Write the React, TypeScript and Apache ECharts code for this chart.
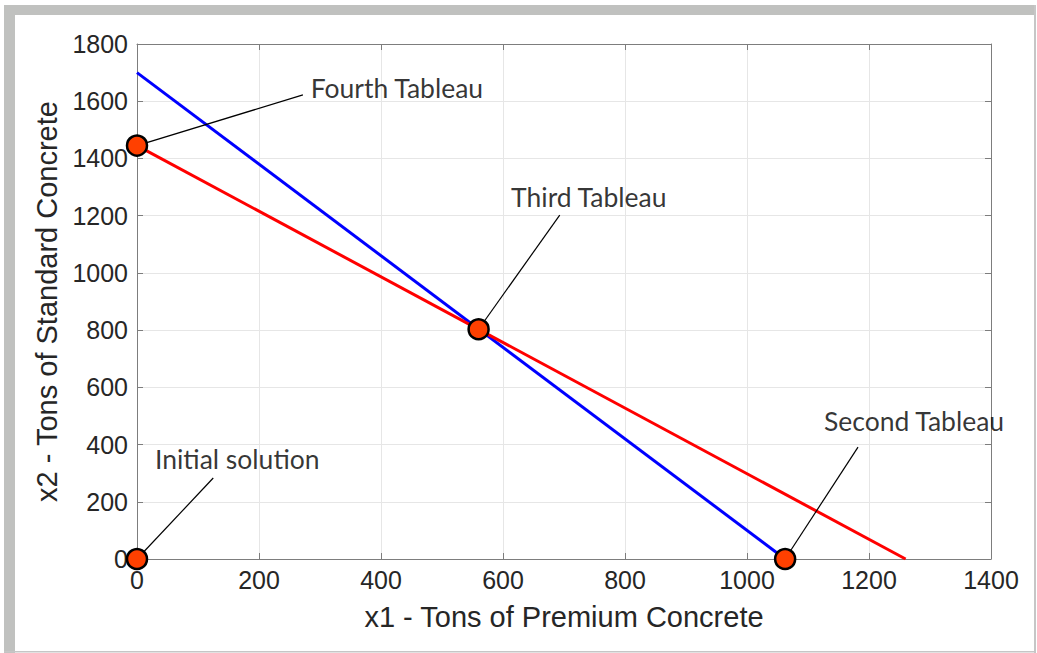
import React, { useEffect, useRef } from "react";
import * as echarts from "echarts";

const blueX = [0, 1062.5];
const blueY = [1700, 0];
const redX = [0, 1260];
const redY = [1445, 0];

const pointNames = ["Initial solution", "Second Tableau", "Third Tableau", "Fourth Tableau"];
const pointX = [0, 1062.5, 560, 0];
const pointY = [0, 0, 803, 1445];
const calloutX = [125, 1182, 693, 272];
const calloutY = [283, 391, 1202, 1622];
const labelOffsets: number[][] = [[24, -19], [56, -26], [29, -18], [94, -7]];

const xTicks = { min: 0, max: 1400, interval: 200 };
const yTicks = { min: 0, max: 1800, interval: 200 };

const AXIS_COLOR = "#7d7d7d";
const GRID_COLOR = "#e6e6e6";
const TICK_FONT = "Arial, Helvetica, sans-serif";
const NOTE_FONT = "Lato, sans-serif";

export default function App() {
  const ref = useRef<HTMLDivElement>(null);
  useEffect(() => {
    if (!ref.current) return;
    const chart = echarts.init(ref.current, undefined, { renderer: "svg" });

    const connectorSeries = pointNames.map((n, i) => ({
      type: "line",
      name: "conn" + i,
      data: [
        [pointX[i], pointY[i]],
        [calloutX[i], calloutY[i]],
      ],
      symbol: "none",
      lineStyle: { color: "#000", width: 1.2 },
      z: 3,
      silent: true,
    }));

    const fmt = (v: number) => String(v);

    chart.setOption({
      animation: false,
      backgroundColor: "#ffffff",
      graphic: [
        { type: "rect", shape: { x: 4, y: 5, width: 1032, height: 10 }, style: { fill: "#c0c1bf" }, z: 100 },
        { type: "rect", shape: { x: 4, y: 5, width: 11, height: 648 }, style: { fill: "#c0c1bf" }, z: 100 },
        { type: "rect", shape: { x: 1034, y: 5, width: 2, height: 648 }, style: { fill: "#c6c6c6" }, z: 100 },
        { type: "rect", shape: { x: 4, y: 651, width: 1032, height: 1.5 }, style: { fill: "#c6c6c6" }, z: 100 },
      ],
      grid: { left: 137, right: 46, top: 44, bottom: 94, containLabel: false },
      xAxis: [
        {
          type: "value",
          min: xTicks.min,
          max: xTicks.max,
          interval: xTicks.interval,
          position: "bottom",
          name: "x1 - Tons of Premium Concrete",
          nameLocation: "middle",
          nameGap: 43,
          nameTextStyle: { color: "#262626", fontSize: 29, fontFamily: TICK_FONT },
          axisLine: { show: true, onZero: false, lineStyle: { color: AXIS_COLOR, width: 1 } },
          axisTick: { show: true, inside: true, length: 6, lineStyle: { color: AXIS_COLOR } },
          axisLabel: { color: "#262626", fontSize: 25, fontFamily: TICK_FONT, margin: 8, formatter: fmt },
          splitLine: { show: true, lineStyle: { color: GRID_COLOR, width: 1 } },
        },
        {
          type: "value",
          min: xTicks.min,
          max: xTicks.max,
          interval: xTicks.interval,
          position: "top",
          axisLine: { show: true, onZero: false, lineStyle: { color: AXIS_COLOR, width: 1 } },
          axisTick: { show: true, inside: true, length: 6, lineStyle: { color: AXIS_COLOR } },
          axisLabel: { show: false },
          splitLine: { show: false },
        },
      ],
      yAxis: [
        {
          type: "value",
          min: yTicks.min,
          max: yTicks.max,
          interval: yTicks.interval,
          position: "left",
          name: "x2 - Tons of Standard Concrete",
          nameLocation: "middle",
          nameGap: 76,
          nameTextStyle: { color: "#262626", fontSize: 29, fontFamily: TICK_FONT },
          axisLine: { show: true, onZero: false, lineStyle: { color: AXIS_COLOR, width: 1 } },
          axisTick: { show: true, inside: true, length: 6, lineStyle: { color: AXIS_COLOR } },
          axisLabel: { color: "#262626", fontSize: 25, fontFamily: TICK_FONT, margin: 9, formatter: fmt },
          splitLine: { show: true, lineStyle: { color: GRID_COLOR, width: 1 } },
        },
        {
          type: "value",
          min: yTicks.min,
          max: yTicks.max,
          interval: yTicks.interval,
          position: "right",
          axisLine: { show: true, onZero: false, lineStyle: { color: AXIS_COLOR, width: 1 } },
          axisTick: { show: true, inside: true, length: 6, lineStyle: { color: AXIS_COLOR } },
          axisLabel: { show: false },
          splitLine: { show: false },
        },
      ],
      series: [
        {
          type: "line",
          name: "blue",
          data: blueX.map((x, i) => [x, blueY[i]]),
          symbol: "none",
          lineStyle: { color: "#0000ff", width: 3 },
          z: 2,
          silent: true,
        },
        {
          type: "line",
          name: "red",
          data: redX.map((x, i) => [x, redY[i]]),
          symbol: "none",
          lineStyle: { color: "#ff0000", width: 3 },
          z: 2,
          silent: true,
        },
        ...connectorSeries,
        {
          type: "scatter",
          name: "labels",
          data: pointNames.map((n, i) => ({
            value: [calloutX[i], calloutY[i]],
            name: n,
            label: { offset: labelOffsets[i] },
          })),
          symbolSize: 0,
          itemStyle: { color: "transparent" },
          label: {
            show: true,
            position: "inside",
            align: "center",
            verticalAlign: "middle",
            formatter: (p: any) => p.name,
            color: "#000",
            fontSize: 26.5,
            fontFamily: NOTE_FONT,
          },
          z: 4,
          silent: true,
        },
        {
          type: "scatter",
          name: "points",
          data: pointX.map((x, i) => [x, pointY[i]]),
          symbol: "circle",
          symbolSize: 20,
          itemStyle: { color: "#ff4000", borderColor: "#000", borderWidth: 2.5, opacity: 1 },
          z: 5,
          silent: true,
        },
      ],
    });
    return () => chart.dispose();
  }, []);

  return (
    <div
      ref={ref}
      style={{ position: "absolute", left: 0, top: 0, width: 1037, height: 653, background: "#fff" }}
    />
  );
}
